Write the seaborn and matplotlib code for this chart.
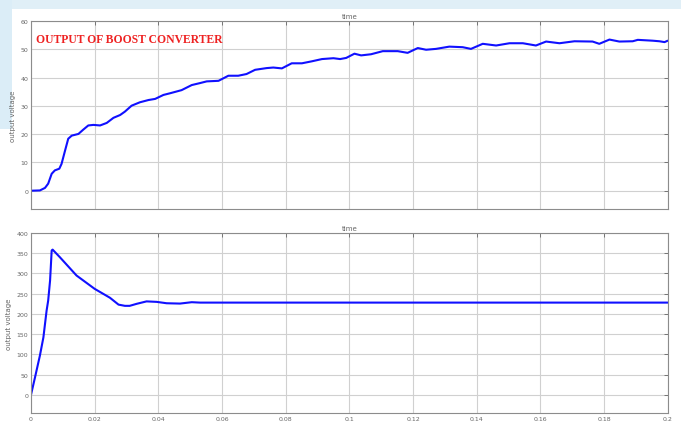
import numpy as np
import pandas as pd
import matplotlib
matplotlib.use('Agg')
import matplotlib.pyplot as plt
import seaborn as sns

# boost converter output (top)
boost_t = [0.0, 0.0028, 0.0044, 0.0054, 0.0065, 0.0075, 0.0089, 0.0096, 0.0107, 0.0117,
           0.0128, 0.0149, 0.0164, 0.018, 0.0196, 0.0217, 0.0238, 0.0259, 0.028, 0.0295,
           0.0316, 0.0342, 0.0369, 0.039, 0.0416, 0.0437, 0.0473, 0.0505, 0.0531, 0.0552,
           0.0589, 0.062, 0.0651, 0.0677, 0.0704, 0.074, 0.0761, 0.0788, 0.0819, 0.0851,
           0.0882, 0.0914, 0.095, 0.0971, 0.099, 0.1016, 0.1037, 0.1068, 0.1105, 0.1152,
           0.1183, 0.1215, 0.1241, 0.1272, 0.1314, 0.1356, 0.1382, 0.1419, 0.1461, 0.1503,
           0.1545, 0.1586, 0.1618, 0.166, 0.1707, 0.1764, 0.1785, 0.1817, 0.1848, 0.189,
           0.1906, 0.1953, 0.1974, 0.199, 0.2]
boost_v = [0.0, 0.1, 1.0, 2.5, 6.0, 7.2, 7.8, 9.5, 14.2, 18.4,
           19.5, 20.1, 21.6, 23.1, 23.3, 23.1, 24.0, 25.8, 26.8, 28.0,
           30.1, 31.3, 32.1, 32.5, 33.9, 34.5, 35.6, 37.4, 38.1, 38.7,
           38.9, 40.7, 40.7, 41.3, 42.8, 43.4, 43.6, 43.3, 45.1, 45.1,
           45.8, 46.6, 46.9, 46.6, 47.0, 48.5, 47.9, 48.3, 49.4, 49.4,
           48.8, 50.5, 49.9, 50.2, 51.0, 50.8, 50.2, 52.0, 51.4, 52.2,
           52.2, 51.4, 52.8, 52.2, 52.9, 52.8, 52.0, 53.5, 52.8, 52.9,
           53.4, 53.1, 52.9, 52.6, 53.1]

# second trace (bottom)
out_t = [0.0, 0.00126, 0.0028, 0.0039, 0.0049, 0.0054, 0.006, 0.0065, 0.0068,
         0.0091, 0.0143, 0.02, 0.0248, 0.0275, 0.0295, 0.031, 0.0332, 0.0363,
         0.0395, 0.0426, 0.0468, 0.0505, 0.0531, 0.06, 0.1, 0.15, 0.2]
out_v = [0.0, 43, 97, 142, 208, 233, 283, 357, 359,
         340, 295, 262, 240, 223, 220, 220, 225, 231,
         229.8, 226.4, 225.6, 229, 228, 228, 228, 228, 228]

x_ticks = [0, 0.02, 0.04, 0.06, 0.08, 0.1, 0.12, 0.14, 0.16, 0.18, 0.2]
x_tick_labels = ['0', '0.02', '0.04', '0.06', '0.08', '0.1', '0.12', '0.14', '0.16', '0.18', '0.2']
top_yticks = [0, 10, 20, 30, 40, 50, 60]
bot_yticks = [0, 50, 100, 150, 200, 250, 300, 350, 400]

sns.set_style('white')
plt.rcParams['font.family'] = ['DejaVu Sans']

fig = plt.figure(figsize=(6.81, 4.27), dpi=100)
fig.patch.set_facecolor('white')

# faint bluish backdrop like the screenshot
bg = fig.add_axes([0, 0, 1, 1], zorder=-10)
img = np.ones((427, 681, 3))
img[:10, :, :] = [0.88, 0.94, 0.97]
img[:130, :12, :] = [0.86, 0.93, 0.97]
bg.imshow(img, aspect='auto', interpolation='bilinear')
bg.axis('off')

line_col = '#1010ff'
grid_col = '#d0d0d0'
tick_col = '#666666'


def style_axes(ax, yticks, ylim, show_xlabels):
    ax.set_xlim(0, 0.2)
    ax.set_ylim(*ylim)
    ax.set_xticks(x_ticks)
    ax.set_yticks(yticks)
    ax.set_yticklabels([str(v) for v in yticks])
    if show_xlabels:
        ax.set_xticklabels(x_tick_labels)
    else:
        ax.set_xticklabels([])
    ax.grid(True, color=grid_col, linewidth=0.8)
    ax.tick_params(axis='both', labelsize=4.5, colors=tick_col, direction='in',
                   length=3, width=0.6, top=True, right=True, pad=2)
    for s in ax.spines.values():
        s.set_color('#8c8c8c')
        s.set_linewidth(0.8)
    ax.set_title('time', fontsize=5, color='#666666', pad=2)
    ax.set_xlabel('')
    ax.set_ylabel('output voltage', fontsize=5, color='#666666', labelpad=3)
    ax.set_facecolor('white')


ax1 = fig.add_axes([0.0455, 0.508, 0.935, 0.44])
df1 = pd.DataFrame({'time': boost_t, 'voltage': boost_v})
sns.lineplot(data=df1, x='time', y='voltage', ax=ax1, color=line_col, linewidth=1.5)
style_axes(ax1, top_yticks, (-6.5, 60), False)
ax1.text(0.008, 0.935, 'OUTPUT OF BOOST CONVERTER', transform=ax1.transAxes,
         fontsize=8.4, fontweight='bold', color='#ee2222', family='Liberation Serif',
         va='top', ha='left')

ax2 = fig.add_axes([0.0455, 0.0304, 0.935, 0.4215])
df2 = pd.DataFrame({'time': out_t, 'voltage': out_v})
sns.lineplot(data=df2, x='time', y='voltage', ax=ax2, color=line_col, linewidth=1.5)
style_axes(ax2, bot_yticks, (-45, 400), True)

fig.savefig('out.png', dpi=100, facecolor=fig.get_facecolor())
